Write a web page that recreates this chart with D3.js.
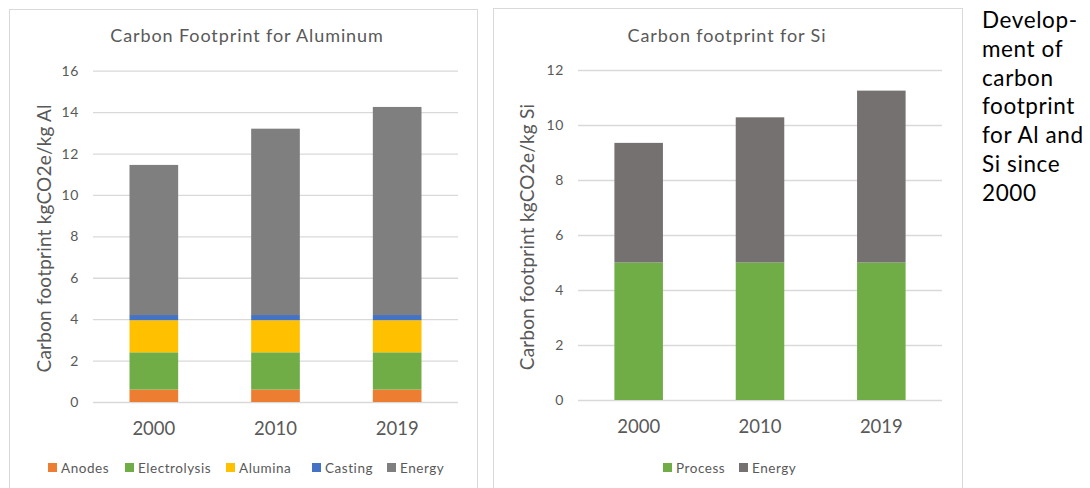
<!DOCTYPE html>
<html>
<head>
<meta charset="utf-8">
<script src="https://cdn.jsdelivr.net/npm/d3@7"></script>
<style>
  html, body { margin: 0; padding: 0; background: #fff; }
  svg { display: block; }
</style>
</head>
<body>
<svg id="chart" width="1090" height="488"></svg>
<script>
// Years shown on both charts
const years = ["2000", "2010", "2019"];

// Aluminium footprint components (kgCO2e/kg Al), stacked bottom to top
const alSeries = ["Anodes", "Electrolysis", "Alumina", "Casting", "Energy"];
const alAnodes = [0.6, 0.6, 0.6];
const alElectrolysis = [1.8, 1.8, 1.8];
const alAlumina = [1.55, 1.55, 1.55];
const alCasting = [0.25, 0.25, 0.25];
const alEnergy = [7.25, 9.0, 10.05];
const alTicks = [0, 2, 4, 6, 8, 10, 12, 14, 16];

// Silicon footprint components (kgCO2e/kg Si)
const siSeries = ["Process", "Energy"];
const siProcess = [5.0, 5.0, 5.0];
const siEnergy = [4.35, 5.28, 6.25];
const siTicks = [0, 2, 4, 6, 8, 10, 12];

const alColors = ["#ED7D31", "#70AD47", "#FFC000", "#4472C4", "#7F7F7F"];
const siColors = ["#70AD47", "#767171"];

const FONT = "Lato, 'Open Sans', sans-serif";
const svg = d3.select("#chart");

function drawPanel(cfg) {
  const g = svg.append("g");

  // panel frame
  g.append("rect")
    .attr("x", cfg.frame[0] + 0.5).attr("y", cfg.frame[1] + 0.5)
    .attr("width", cfg.frame[2]).attr("height", cfg.frame[3])
    .attr("fill", "#fff").attr("stroke", "#d9d9d9").attr("stroke-width", 1);

  const x = d3.scaleBand().domain(years)
    .range([cfg.plot.left, cfg.plot.right])
    .paddingInner(0.6).paddingOuter(0.3);
  const y = d3.scaleLinear().domain([0, cfg.max])
    .range([cfg.plot.bottom, cfg.plot.top]);

  // gridlines and value labels
  const yAxis = d3.axisLeft(y).tickValues(cfg.ticks)
    .tickSize(-(cfg.plot.right - cfg.plot.left)).tickPadding(14);
  const ya = g.append("g")
    .attr("transform", `translate(${cfg.plot.left},0)`)
    .call(yAxis);
  ya.select(".domain").remove();
  ya.selectAll(".tick line").attr("stroke", "#d9d9d9").attr("stroke-width", 1.3);
  ya.selectAll(".tick text")
    .attr("fill", "#595959").attr("font-family", FONT).attr("font-size", 14)
    .attr("letter-spacing", 0.6);

  // stacked bars
  const rows = years.map((yr, i) => {
    const r = { year: yr };
    cfg.series.forEach((s, k) => { r[s] = cfg.values[k][i]; });
    return r;
  });
  const stacked = d3.stack().keys(cfg.series)(rows);
  g.selectAll("g.layer").data(stacked).join("g")
    .attr("class", "layer")
    .attr("fill", (d, k) => cfg.colors[k])
    .selectAll("rect").data(d => d).join("rect")
    .attr("x", d => x(d.data.year))
    .attr("width", x.bandwidth())
    .attr("y", d => y(d[1]))
    .attr("height", d => y(d[0]) - y(d[1]));

  // category labels
  const xAxis = d3.axisBottom(x).tickSize(0).tickPadding(20);
  const xa = g.append("g")
    .attr("transform", `translate(0,${cfg.plot.bottom})`)
    .call(xAxis);
  xa.select(".domain").remove();
  xa.selectAll(".tick text")
    .attr("fill", "#595959").attr("font-family", FONT).attr("font-size", 18.5);

  // title
  g.append("text")
    .attr("x", cfg.titleX).attr("y", 42)
    .attr("text-anchor", "middle")
    .attr("fill", "#595959").attr("font-family", FONT).attr("font-size", 18)
    .attr("letter-spacing", 0.9)
    .text(cfg.title);

  // y axis title
  g.append("text")
    .attr("transform", `translate(${cfg.yTitleX},${(cfg.plot.top + cfg.plot.bottom) / 2 + 2}) rotate(-90)`)
    .attr("text-anchor", "middle")
    .attr("fill", "#595959").attr("font-family", FONT).attr("font-size", 19)
    .attr("letter-spacing", 0.2)
    .text(cfg.yTitle);

  // legend
  const lg = g.append("g").attr("transform", `translate(0,468)`);
  cfg.series.forEach((s, k) => {
    const lx = cfg.legendX[k];
    lg.append("rect").attr("x", lx).attr("y", -5)
      .attr("width", 9).attr("height", 9).attr("fill", cfg.colors[k]);
    lg.append("text").attr("x", lx + 13).attr("y", 4.5)
      .attr("fill", "#595959").attr("font-family", FONT).attr("font-size", 13.5)
      .attr("letter-spacing", 0.55)
      .text(s);
  });
}

drawPanel({
  frame: [9, 9, 468, 490],
  plot: { left: 93, right: 458, top: 70.7, bottom: 402 },
  max: 16,
  ticks: alTicks,
  series: alSeries,
  values: [alAnodes, alElectrolysis, alAlumina, alCasting, alEnergy],
  colors: alColors,
  title: "Carbon Footprint for Aluminum",
  titleX: 247,
  yTitle: "Carbon footprint kgCO2e/kg Al",
  yTitleX: 51,
  legendX: [48, 125, 226, 312, 387]
});

drawPanel({
  frame: [493, 8, 469, 490],
  plot: { left: 578, right: 942, top: 70, bottom: 400 },
  max: 12,
  ticks: siTicks,
  series: siSeries,
  values: [siProcess, siEnergy],
  colors: siColors,
  title: "Carbon footprint for Si",
  titleX: 727,
  yTitle: "Carbon footprint kgCO2e/kg Si",
  yTitleX: 534,
  legendX: [663, 739]
});

// side caption
const caption = ["Develop-", "ment of", "carbon", "footprint", "for Al and", "Si since", "2000"];
svg.append("text")
  .attr("font-family", FONT).attr("font-size", 22.5).attr("fill", "#000")
  .attr("letter-spacing", 0.6)
  .selectAll("tspan").data(caption).join("tspan")
  .attr("x", 982).attr("y", (d, i) => 28 + i * 28.8)
  .text(d => d);
</script>
</body>
</html>
